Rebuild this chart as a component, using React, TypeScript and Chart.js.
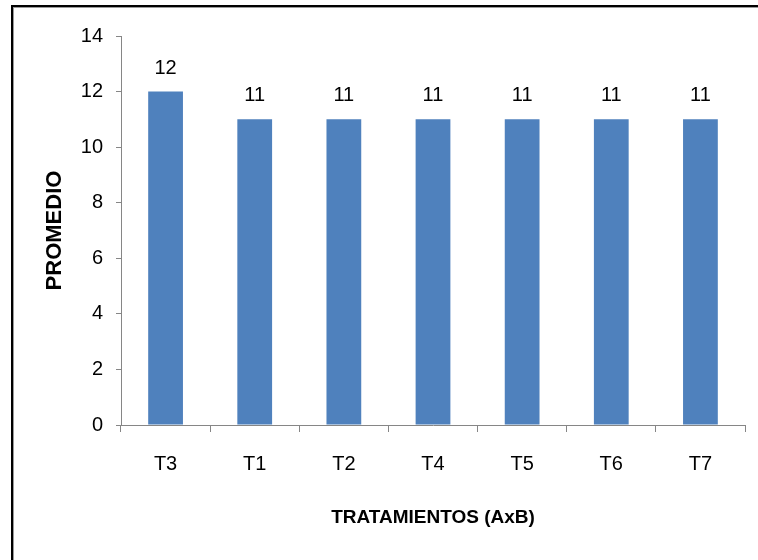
import React, { useEffect, useRef } from "react";
import { Chart, registerables } from "chart.js";

Chart.register(...registerables);

const categories: string[] = ["T3", "T1", "T2", "T4", "T5", "T6", "T7"];
const promedio: number[] = [12, 11, 11, 11, 11, 11, 11];
const yTicks: number[] = [0, 2, 4, 6, 8, 10, 12, 14];
const xTitle = "TRATAMIENTOS (AxB)";
const yTitle = "PROMEDIO";

const AXIS = "#868686";
const BAR = "#4F81BD";
const FONT = '"Liberation Sans", Arial, sans-serif';

const framePlugin = {
  id: "frame",
  beforeDraw(chart: any) {
    const { ctx, width, height } = chart;
    ctx.save();
    ctx.fillStyle = "#ffffff";
    ctx.fillRect(0, 0, width, height);
    ctx.fillStyle = "#000000";
    ctx.fillRect(11, 5, width - 11, 2);
    ctx.fillRect(11, 5, 2, height - 5);
    ctx.fillStyle = "#9a9a9a";
    ctx.fillRect(13, 7, width - 13, 1);
    ctx.fillRect(13, 7, 1, height - 7);
    ctx.restore();
  },
};

const valueLabelPlugin = {
  id: "valueLabels",
  afterDatasetsDraw(chart: any) {
    const { ctx } = chart;
    const meta = chart.getDatasetMeta(0);
    const data = chart.data.datasets[0].data as number[];
    ctx.save();
    ctx.font = `20px ${FONT}`;
    ctx.fillStyle = "#000000";
    ctx.textAlign = "center";
    ctx.textBaseline = "alphabetic";
    meta.data.forEach((bar: any, i: number) => {
      ctx.fillText(String(data[i]), bar.x, bar.y - 18);
    });
    ctx.restore();
  },
};

export default function App() {
  const ref = useRef<HTMLCanvasElement | null>(null);

  useEffect(() => {
    if (!ref.current) return;
    const chart = new Chart(ref.current, {
      type: "bar",
      data: {
        labels: categories,
        datasets: [
          {
            data: promedio,
            backgroundColor: BAR,
            borderWidth: 0,
            barPercentage: 0.39,
            categoryPercentage: 1,
          },
        ],
      },
      options: {
        responsive: false,
        animation: false,
        events: [],
        layout: { padding: { left: 0, right: 13, top: 36, bottom: 0 } },
        plugins: {
          legend: { display: false },
          title: { display: false },
          tooltip: { enabled: false },
        },
        scales: {
          x: {
            offset: true,
            afterFit(scale: any) {
              scale.height = 135;
            },
            grid: {
              display: true,
              offset: true,
              drawOnChartArea: false,
              drawTicks: true,
              tickLength: 7,
              color: AXIS,
              lineWidth: 1,
            },
            border: { display: true, color: AXIS, width: 1 },
            ticks: {
              color: "#000000",
              padding: 20,
              font: { family: FONT, size: 20, lineHeight: 1.2 },
              maxRotation: 0,
            },
            title: {
              display: true,
              text: xTitle,
              color: "#000000",
              font: { family: FONT, size: 19, weight: "bold", lineHeight: 1.2 },
              padding: { top: 0, bottom: 31 },
            },
          },
          y: {
            min: 0,
            max: 14,
            afterFit(scale: any) {
              scale.width = 121;
            },
            afterBuildTicks(scale: any) {
              scale.ticks = yTicks.map((v) => ({ value: v }));
            },
            grid: {
              display: true,
              drawOnChartArea: false,
              drawTicks: true,
              tickLength: 5,
              color: AXIS,
              lineWidth: 1,
            },
            border: { display: true, color: AXIS, width: 1 },
            ticks: {
              color: "#000000",
              padding: 13,
              font: { family: FONT, size: 20, lineHeight: 1.2 },
            },
            title: {
              display: true,
              text: yTitle,
              color: "#000000",
              font: { family: FONT, size: 22, weight: "bold", lineHeight: 1.2 },
              padding: { top: 42, bottom: 0 },
            },
          },
        },
      },
      plugins: [framePlugin, valueLabelPlugin],
    });
    return () => chart.destroy();
  }, []);

  return (
    <canvas
      ref={ref}
      width={758}
      height={560}
      style={{ position: "fixed", left: 0, top: 0, width: 758, height: 560 }}
    />
  );
}
